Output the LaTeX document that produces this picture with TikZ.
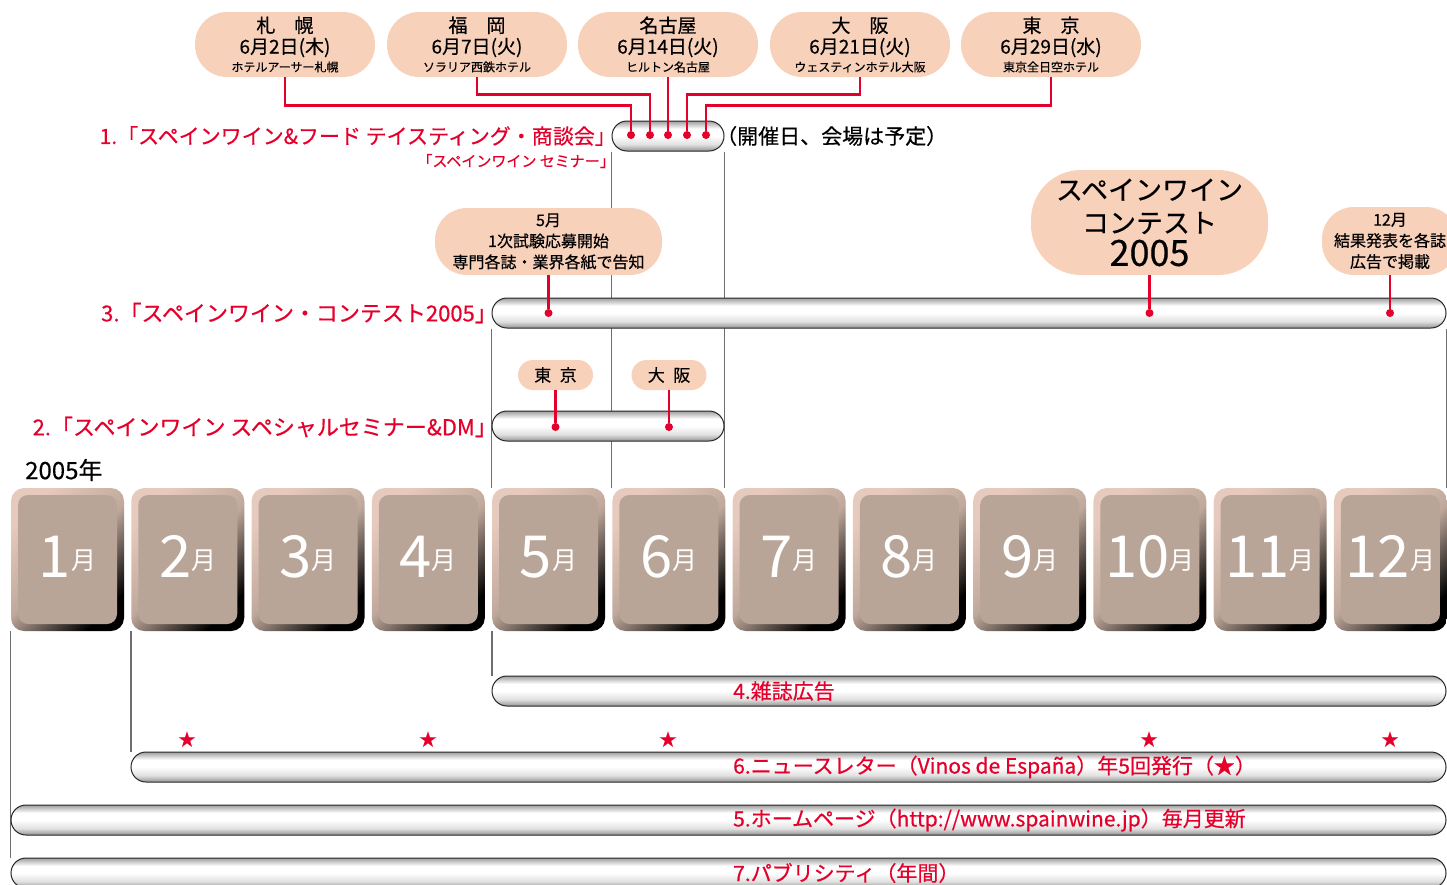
\documentclass[tikz,border=0pt]{standalone}
\usepackage{fontspec}
\setmainfont{Noto Sans CJK JP}
\newfontfamily\mittel[FakeBold=0.5]{Noto Sans CJK JP}
\usetikzlibrary{positioning,backgrounds}

\definecolor{weinrot}{HTML}{E4002B}
\definecolor{pfirsich}{HTML}{F8D1BB}
\definecolor{kachel}{HTML}{B8A598}
\definecolor{kachelhell}{HTML}{E6CABD}
\definecolor{kachelmitte}{HTML}{C0A99C}
\definecolor{linie}{HTML}{6E6E6E}

\newcommand{\schrift}[2]{\fontsize{#1}{#2}\selectfont}

% Schattierung der Balken
\pgfdeclareverticalshading{balkenschatten}{100bp}{color(0bp)=(black!42); color(25bp)=(black!42);
  color(36bp)=(black!12); color(50bp)=(white); color(62bp)=(white); color(75bp)=(black!38); color(100bp)=(black!38)}

\tikzset{
  blase/.style={fill=pfirsich, rounded corners=#1, inner sep=0pt, align=center},
  blase/.default=32pt,
  balken/.style={draw=black!85, line width=1pt, rounded corners=15pt, minimum height=30pt,
    inner sep=0pt, shading=balkenschatten},
  kachel/.style={minimum width=113pt, minimum height=143pt, rounded corners=13pt, inner sep=0pt,
    top color=kachelhell, bottom color=black, middle color=kachelmitte, shading angle=45},
  innen/.style={fill=kachel, minimum width=99pt, minimum height=129pt, rounded corners=10pt, inner sep=0pt},
  titel/.style={text=weinrot, inner sep=0pt, font=\mittel\schrift{22}{24}},
  marke/.style={text=weinrot, inner sep=0pt, font=\mittel\schrift{21}{24}},
  punkt/.style={circle, fill=weinrot, inner sep=0pt, minimum size=8pt},
  verbinder/.style={weinrot, line width=2.6pt},
  hilfslinie/.style={linie, line width=1.3pt},
  stern/.style={text=weinrot, inner sep=0pt, font=\schrift{18}{18}},
}

\begin{document}
\begin{tikzpicture}[x=1pt,y=-1pt]
    \useasboundingbox (0,0) rectangle (1447,884);
    \clip (0,0) rectangle (1447,884);

    % Monate
    \foreach \i in {1,...,12} {
        \pgfmathsetmacro\x{67.5+(\i-1)*120.27}
        \node[kachel] (m\i) at (\x,559.5) {};
        \node[innen] (k\i) at (m\i) {};
        \node[text=white, inner sep=0pt, anchor=base] (n\i) at (\x,577)
            {\schrift{58}{58}\i\raisebox{8pt}{\schrift{25}{25}月}};
    }
    \node[inner sep=0pt, anchor=west, font=\mittel\schrift{24}{26}] (jahr) at (25,470) {2005年};

    % Balken
    \node[balken, minimum width=112pt] (b1) at (668,136) {};
    \node[balken, minimum width=954pt] (b3) at (969,313) {};
    \node[balken, minimum width=232pt] (b2) at (608,426) {};
    \node[balken, minimum width=954pt] (b4) at (969,691) {};
    \node[balken, minimum width=1315pt] (b6) at (788.5,767) {};
    \node[balken, minimum width=1435pt] (b5) at (728.5,820) {};
    \node[balken, minimum width=1435pt] (b7) at (728.5,873) {};

    % Hilfslinien
    \begin{scope}[on background layer]
        \draw[hilfslinie] (b1.south west) -- (b1.south west |- m6.north);
        \draw[hilfslinie] (b1.south east) -- (b1.south east |- m6.north);
        \draw[hilfslinie] (b3.south west) -- (b3.south west |- m5.north);
        \draw[hilfslinie] (b3.south east) -- (b3.south east |- m12.north);
        \draw[hilfslinie] (m5.south west) -- (m5.south west |- b4.north);
        \draw[hilfslinie] (m12.south east) -- (m12.south east |- b7.north);
        \draw[hilfslinie] (m1.south west) -- (m1.south west |- b7.north);
        \draw[hilfslinie] (m2.south west) -- (m2.south west |- b6.north);
    \end{scope}

    % Titel
    \node[titel, anchor=east, font=\mittel\schrift{21}{24}] (t1) at (616,136) {1.「スペインワイン\&フード テイスティング・商談会」};
    \node[titel, anchor=east, font=\mittel\schrift{15}{18}] (t1b) at (615,161) {「スペインワイン セミナー」};
    \node[anchor=west, inner sep=0pt, font=\mittel\schrift{21}{24}] (hinweis) at (716,136) {（開催日、会場は予定）};
    \node[titel, anchor=east] (t3) at (497,313) {3.「スペインワイン・コンテスト2005」};
    \node[titel, anchor=east] (t2) at (497,427) {2.「スペインワイン スペシャルセミナー\&DM」};
    \node[marke, anchor=west] (t4) at (733,691) {4.雑誌広告};
    \node[marke, anchor=west] (t6) at (733,767) {6.ニュースレター（Vinos de España）年5回発行（★）};
    \node[marke, anchor=west] (t5) at (733,820) {5.ホームページ（http://www.spainwine.jp）毎月更新};
    \node[marke, anchor=west] (t7) at (733,873) {7.パブリシティ（年間）};

    % Termine
    \node[blase, minimum width=180pt, minimum height=65pt, font=\mittel\schrift{19}{21}] (sapporo) at (285,44.5)
        {札　幌\\6月2日(木)\\[-3pt]{\schrift{12}{14}ホテルアーサー札幌}};
    \node[blase, minimum width=180pt, minimum height=65pt, font=\mittel\schrift{19}{21}] (fukuoka) at (477,44.5)
        {福　岡\\6月7日(火)\\[-3pt]{\schrift{12}{14}ソラリア西鉄ホテル}};
    \node[blase, minimum width=180pt, minimum height=65pt, font=\mittel\schrift{19}{21}] (nagoya) at (668,44.5)
        {名古屋\\6月14日(火)\\[-3pt]{\schrift{12}{14}ヒルトン名古屋}};
    \node[blase, minimum width=180pt, minimum height=65pt, font=\mittel\schrift{19}{21}] (osaka) at (860,44.5)
        {大　阪\\6月21日(火)\\[-3pt]{\schrift{12}{14}ウェスティンホテル大阪}};
    \node[blase, minimum width=180pt, minimum height=65pt, font=\mittel\schrift{19}{21}] (tokyo) at (1051,44.5)
        {東　京\\6月29日(水)\\[-3pt]{\schrift{12}{14}東京全日空ホテル}};

    \node[punkt] (d1) at (631,135) {};
    \node[punkt] (d2) at (650,135) {};
    \node[punkt] (d3) at (668,135) {};
    \node[punkt] (d4) at (687,135) {};
    \node[punkt] (d5) at (706,135) {};
    \draw[verbinder] (sapporo.south) -- ++(0,28.5) -| (d1);
    \draw[verbinder] (fukuoka.south) -- ++(0,17.5) -| (d2);
    \draw[verbinder] (nagoya.south) -- (d3);
    \draw[verbinder] (osaka.south) -- ++(0,17.5) -| (d4);
    \draw[verbinder] (tokyo.south) -- ++(0,28.5) -| (d5);

    % Wettbewerb
    \node[blase, minimum width=227pt, minimum height=67pt, font=\mittel\schrift{16}{21}] (pruefung) at (548.5,241.5)
        {5月\\1次試験応募開始\\専門各誌・業界各紙で告知};
    \node[blase=50pt, minimum width=237pt, minimum height=105pt, font=\mittel\schrift{27}{33}] (wettbewerb) at (1149.5,222.5)
        {スペインワイン\\コンテスト\\{\schrift{36}{33}2005}};
    \node[blase, minimum width=136pt, minimum height=68pt, font=\mittel\schrift{16}{21}] (ergebnis) at (1390,241)
        {12月\\結果発表を各誌\\広告で掲載};
    \node[punkt] (d6) at (548.5,313) {};
    \node[punkt] (d7) at (1149.5,313) {};
    \node[punkt] (d8) at (1390,313) {};
    \draw[verbinder] (pruefung) -- (d6);
    \draw[verbinder] (wettbewerb) -- (d7);
    \draw[verbinder] (ergebnis) -- (d8);

    % Seminare
    \node[blase=15pt, minimum width=75pt, minimum height=30pt, font=\mittel\schrift{17}{20}] (tokio) at (555.5,375) {東\hspace{0.5em}京};
    \node[blase=15pt, minimum width=75pt, minimum height=30pt, font=\mittel\schrift{17}{20}] (osaka2) at (669,375) {大\hspace{0.5em}阪};
    \node[punkt] (d9) at (555.5,427) {};
    \node[punkt] (d10) at (669,427) {};
    \draw[verbinder] (tokio) -- (d9);
    \draw[verbinder] (osaka2) -- (d10);

    % Newsletter
    \foreach \m in {2,4,6,10,12}
        \node[stern] (s\m) at (m\m |- 0,740) {★};
\end{tikzpicture}
\end{document}
